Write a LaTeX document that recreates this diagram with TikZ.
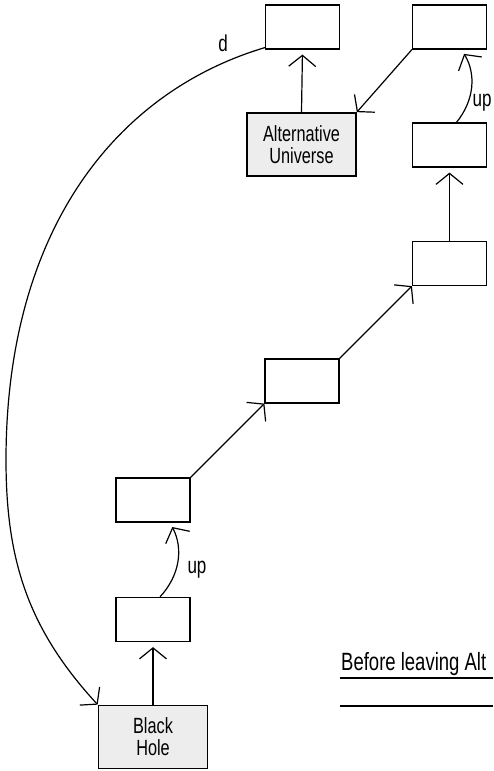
\documentclass[tikz,border=0pt]{standalone}
\usepackage{fontspec}
\setmainfont[FakeStretch=0.74]{Liberation Sans}
\usetikzlibrary{arrows.meta,positioning,calc}

\begin{document}
\begin{tikzpicture}[x=1pt, y=1pt,
    box/.style={draw, line width=1.2pt, minimum width=74pt, minimum height=44pt, inner sep=0pt},
    bigbox/.style={draw, line width=1.7pt, fill=black!7, minimum width=109pt, minimum height=63pt, inner sep=0pt, align=center, font=\fontsize{22}{22}\selectfont},
    ptr/.style={line width=1.2pt, -{Straight Barb[length=11pt, width=27pt]}},
    lbl/.style={font=\fontsize{23}{20}\selectfont}]
    \useasboundingbox (0,0) rectangle (493,771);

    % Left column
    \node[bigbox] (hole) at (153,34) {Black\\Hole};
    \node[box] (left2) at (153,151.5) {};
    \node[box] (left1) at (153,271) {};
    % Middle column
    \node[box] (mid) at (302,390) {};
    \node[bigbox] (univ) at (301.5,626.5) {Alternative\\Universe};
    \node[box] (topmid) at (302.5,744) {};
    % Right column
    \node[box] (right3) at (449.5,507.5) {};
    \node[box] (right2) at (449.5,626) {};
    \node[box] (topright) at (449.5,744) {};

    % Pointers up the chain
    \draw[ptr, shorten >=5pt] (hole.north) -- (left2.south);
    \draw[ptr, shorten >=5pt] ([xshift=7pt]left2.north) to[bend right=35] ([xshift=17pt]left1.south);
    \node[lbl] (upleft) at (197,201) {up};
    \draw[ptr] (left1.north east) -- (mid.south west);
    \draw[ptr] (mid.north east) -- (right3.south west);
    \draw[ptr, shorten >=5pt] (right3.north) -- (right2.south);
    \draw[ptr, shorten >=5pt] ([xshift=7pt]right2.north) to[bend right=35] ([xshift=12pt]topright.south);
    \node[lbl] (upright) at (482,668) {up};
    \draw[ptr] (topright.south west) -- (univ.north east);
    \draw[ptr, shorten >=5pt] (univ.north) -- (topmid.south);

    % d link back to the black hole
    \coordinate (dleft) at (6,311);
    \draw[ptr] ([yshift=2pt]topmid.south west) .. controls (116,679) and (6,541) .. (dleft)
        .. controls (6,211) and (28,142) .. (hole.north west);
    \node[lbl] (dlabel) at (223,728) {d};

    % Note lines
    \node[font=\fontsize{25}{25}\selectfont, anchor=base west, inner sep=0pt] (note) at (341,100) {Before leaving Alt};
    \draw[line width=1.2pt] (340,93) -- (493,93);
    \draw[line width=1.2pt] (340,65) -- (493,65);
\end{tikzpicture}
\end{document}
